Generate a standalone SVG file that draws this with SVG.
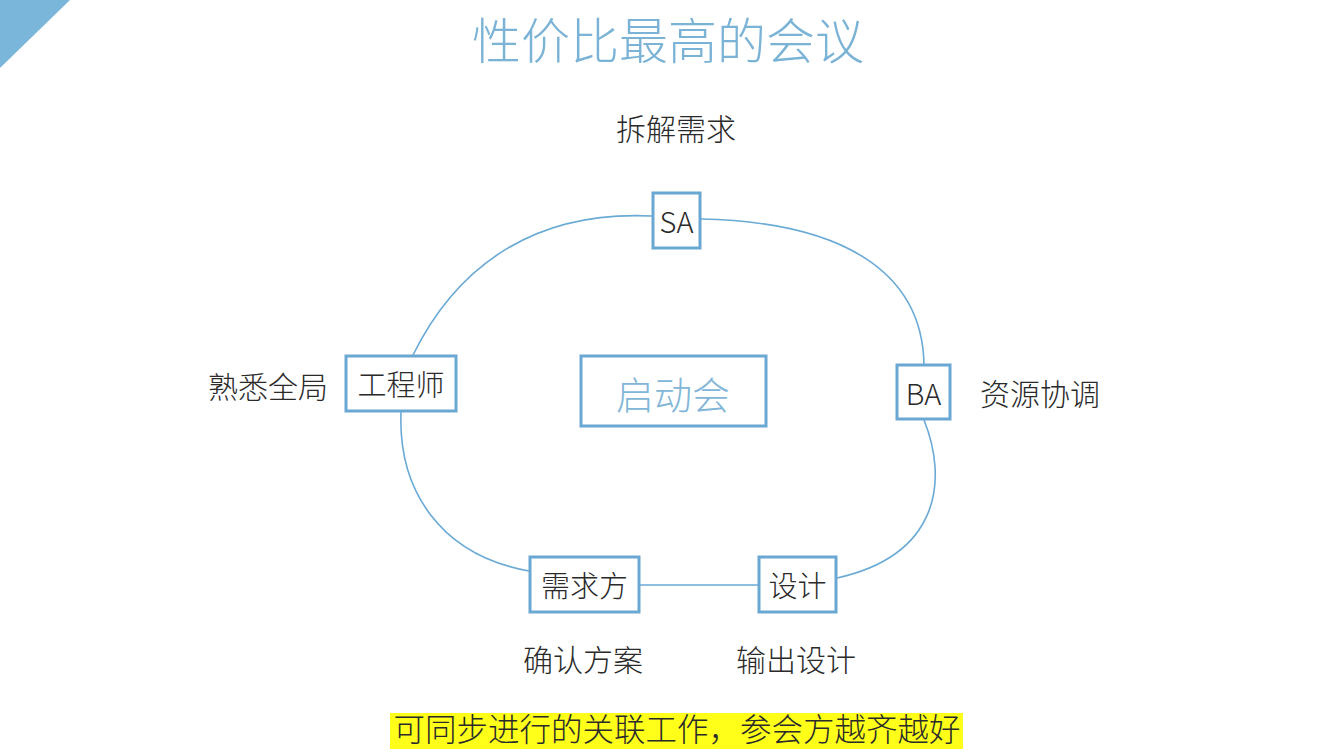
<svg xmlns="http://www.w3.org/2000/svg" width="1337" height="752" viewBox="0 0 1337 752">
<style>
text{font-family:"Noto Sans CJK SC","Noto Sans",sans-serif;font-weight:300;}
.box{fill:#fff;stroke:#6aa8d4;stroke-width:3;}
.nt{font-size:29px;fill:#2a2a2a;text-anchor:middle;dominant-baseline:central;}
.lb{font-size:30px;fill:#2a2a2a;text-anchor:middle;dominant-baseline:central;}
.ln{fill:none;stroke:#6aaad6;stroke-width:1.6;}
</style>
<rect width="1337" height="752" fill="#fff"/>
<polygon points="0,0 70,0 0,68" fill="#7ab6da"/>
<text x="668" y="37" font-size="49" fill="#7ab3d6" text-anchor="middle" dominant-baseline="central">性价比最高的会议</text>
<g id="connectors">
<path class="ln" d="M652,216 C530,210 455,270 413,355"/>
<path class="ln" d="M701,219 C840,222 922,270 924,364"/>
<path class="ln" d="M924,420 C948,480 940,555 837,578"/>
<path class="ln" d="M640,585 L758,585"/>
<path class="ln" d="M529,571 C440,555 398,490 401,412"/>
</g>
<g id="node-sa"><rect class="box" x="653" y="193" width="47" height="55"/><text class="nt" x="676.5" y="220">SA</text></g>
<g id="node-engineer"><rect class="box" x="346" y="356" width="110" height="55"/><text class="nt" x="401" y="383">工程师</text></g>
<g id="node-kickoff"><rect class="box" x="581" y="356" width="185" height="70" stroke="#8cbde0"/><text x="673" y="392" font-size="38" fill="#82b6d8" text-anchor="middle" dominant-baseline="central">启动会</text></g>
<g id="node-ba"><rect class="box" x="897" y="365" width="53" height="54"/><text class="nt" x="923.5" y="392">BA</text></g>
<g id="node-demand"><rect class="box" x="530" y="557" width="109" height="55"/><text class="nt" x="584.5" y="584">需求方</text></g>
<g id="node-design"><rect class="box" x="759" y="557" width="77" height="55"/><text class="nt" x="797.5" y="584">设计</text></g>
<text class="lb" x="676" y="127">拆解需求</text>
<text class="lb" x="268" y="385">熟悉全局</text>
<text class="lb" x="1040" y="392">资源协调</text>
<text class="lb" x="583" y="658">确认方案</text>
<text class="lb" x="796" y="658">输出设计</text>
<rect x="390" y="713" width="573" height="36" fill="#ffff1a"/>
<text class="lb" x="677" y="727" style="font-size:31.5px">可同步进行的关联工作，参会方越齐越好</text>
</svg>
